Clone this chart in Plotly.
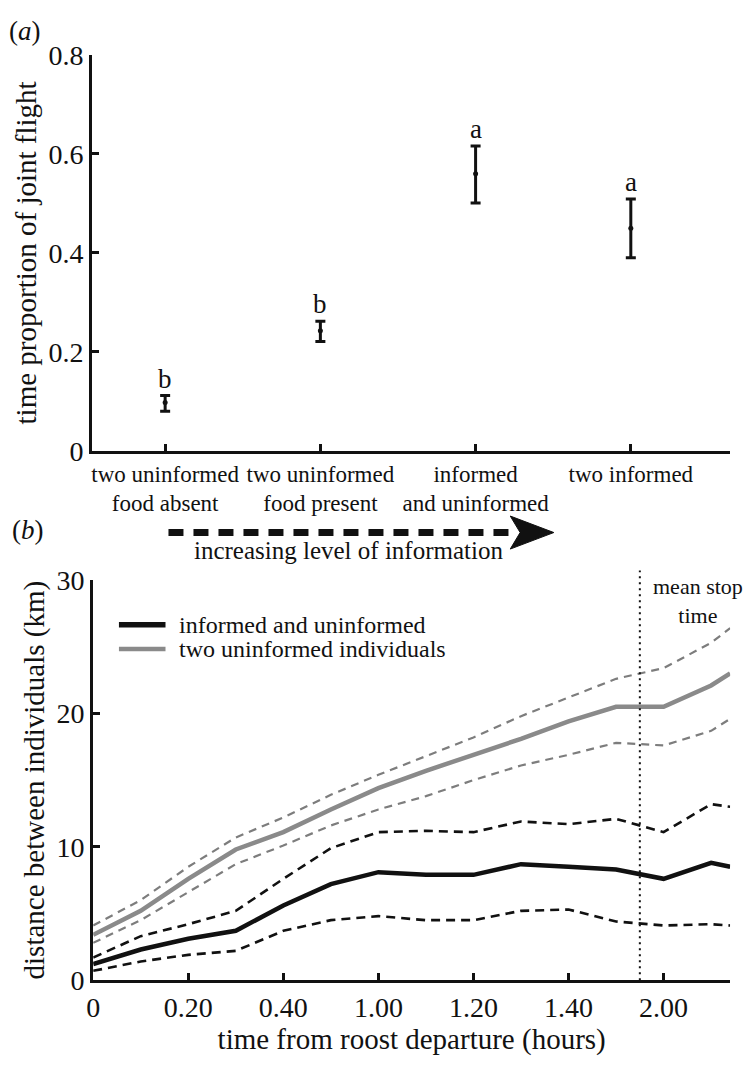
import plotly.graph_objects as go

W, H = 747, 1069
FONT = "Liberation Serif, Times New Roman, serif"

# ---------------- Panel (a) data ----------------
categories = ["two uninformed<br>food absent", "two uninformed<br>food present",
              "informed<br>and uninformed", "two informed"]
prop_mean = [0.098, 0.243, 0.560, 0.450]
prop_upper = [0.112, 0.262, 0.616, 0.509]
prop_lower = [0.080, 0.221, 0.501, 0.390]
sig_letters = ["b", "b", "a", "a"]
a_ytickvals = [0, 0.2, 0.4, 0.6, 0.8]
a_yticktext = ["0", "0.2", "0.4", "0.6", "0.8"]

# ---------------- Panel (b) data ----------------
time_min = [0, 10, 20, 30, 40, 50, 60, 70, 80, 90, 100, 110, 120, 130, 134]
inf_mean = [1.2, 2.3, 3.1, 3.7, 5.6, 7.2, 8.1, 7.9, 7.9, 8.7, 8.5, 8.3, 7.6, 8.8, 8.5]
inf_upper = [1.7, 3.3, 4.2, 5.2, 7.6, 9.9, 11.1, 11.2, 11.1, 11.9, 11.7, 12.1, 11.1, 13.2, 13.0]
inf_lower = [0.7, 1.4, 1.9, 2.2, 3.7, 4.5, 4.8, 4.5, 4.5, 5.2, 5.3, 4.4, 4.1, 4.2, 4.1]
unf_mean = [3.4, 5.2, 7.6, 9.8, 11.1, 12.8, 14.4, 15.7, 16.9, 18.1, 19.4, 20.5, 20.5, 22.1, 23.0]
unf_upper = [4.1, 6.0, 8.5, 10.7, 12.2, 13.9, 15.4, 16.8, 18.2, 19.8, 21.2, 22.6, 23.4, 25.3, 26.4]
unf_lower = [2.8, 4.5, 6.6, 8.7, 10.1, 11.6, 12.8, 13.8, 15.0, 16.1, 16.9, 17.8, 17.6, 18.7, 19.6]
b_xtickvals = [0, 20, 40, 60, 80, 100, 120]
b_xticktext = ["0", "0.20", "0.40", "1.00", "1.20", "1.40", "2.00"]
b_ytickvals = [0, 10, 20, 30]
mean_stop_time = 115
legend_names = ["informed and uninformed", "two uninformed individuals"]


def px(x):
    return x / W


def py(y):
    return 1 - y / H


BLACK = "#111111"
GREY = "#8a8a8a"
GREY_D = "#7d7d7d"

fig = go.Figure()

# Panel (a) error bars
fig.add_trace(go.Scatter(
    x=categories, y=prop_mean, mode="markers",
    marker=dict(color=BLACK, size=5),
    error_y=dict(type="data", symmetric=False,
                 array=[u - m for u, m in zip(prop_upper, prop_mean)],
                 arrayminus=[m - l for m, l in zip(prop_mean, prop_lower)],
                 color=BLACK, thickness=3, width=5),
    xaxis="x", yaxis="y", showlegend=False, cliponaxis=False))

for cat, up, let in zip(categories, prop_upper, sig_letters):
    fig.add_annotation(x=cat, y=up, xref="x", yref="y", text=let, showarrow=False,
                       yanchor="bottom", yshift=0,
                       font=dict(family=FONT, size=27, color=BLACK))

# Panel (b) lines
fig.add_trace(go.Scatter(x=time_min, y=unf_upper, mode="lines",
                         line=dict(color=GREY_D, width=2.2, dash="8px,6px"),
                         xaxis="x2", yaxis="y2", showlegend=False))
fig.add_trace(go.Scatter(x=time_min, y=unf_lower, mode="lines",
                         line=dict(color=GREY_D, width=2.2, dash="8px,6px"),
                         xaxis="x2", yaxis="y2", showlegend=False))
fig.add_trace(go.Scatter(x=time_min, y=unf_mean, mode="lines", name=legend_names[1],
                         line=dict(color=GREY, width=4.5),
                         xaxis="x2", yaxis="y2", showlegend=False))
fig.add_trace(go.Scatter(x=time_min, y=inf_upper, mode="lines",
                         line=dict(color=BLACK, width=2.6, dash="9px,6px"),
                         xaxis="x2", yaxis="y2", showlegend=False))
fig.add_trace(go.Scatter(x=time_min, y=inf_lower, mode="lines",
                         line=dict(color=BLACK, width=2.6, dash="9px,6px"),
                         xaxis="x2", yaxis="y2", showlegend=False))
fig.add_trace(go.Scatter(x=time_min, y=inf_mean, mode="lines", name=legend_names[0],
                         line=dict(color=BLACK, width=4.5),
                         xaxis="x2", yaxis="y2", showlegend=False))

axis_common = dict(showline=True, linecolor=BLACK, linewidth=3, ticks="inside",
                   ticklen=7, tickwidth=2.5, tickcolor=BLACK, showgrid=False,
                   zeroline=False, tickfont=dict(family=FONT, size=28, color=BLACK))

fig.update_layout(
    width=W, height=H,
    margin=dict(l=0, r=0, t=0, b=0),
    paper_bgcolor="white", plot_bgcolor="white",
    font=dict(family=FONT, color=BLACK),
    xaxis=dict(domain=[px(86), px(730)], anchor="y", type="category",
               categoryorder="array", categoryarray=categories,
               range=[-0.47, 3.64], tickangle=0,
               **{**axis_common, "tickfont": dict(family=FONT, size=23, color=BLACK)}),
    yaxis=dict(domain=[py(449), py(41)], anchor="x", range=[0, 0.8],
               tickvals=a_ytickvals, ticktext=a_yticktext,
               title=dict(text="time proportion of joint flight",
                          font=dict(family=FONT, size=29, color=BLACK), standoff=4),
               **axis_common),
    xaxis2=dict(domain=[px(87), px(730)], anchor="y2", range=[0, 134],
                tickvals=b_xtickvals, ticktext=b_xticktext,
                title=dict(text="time from roost departure (hours)",
                           font=dict(family=FONT, size=29, color=BLACK), standoff=6),
                **axis_common),
    yaxis2=dict(domain=[py(994), py(582)], anchor="x2", range=[0, 30],
                tickvals=b_ytickvals,
                title=dict(text="distance between individuals (km)",
                           font=dict(family=FONT, size=29, color=BLACK), standoff=4),
                **axis_common),
)

# Panel labels
fig.add_annotation(x=px(0), y=py(16), xref="paper", yref="paper", text="(<i>a</i>)",
                   showarrow=False, xanchor="left", yanchor="middle",
                   font=dict(family=FONT, size=27, color=BLACK))
fig.add_annotation(x=px(3), y=py(530), xref="paper", yref="paper", text="(<i>b</i>)",
                   showarrow=False, xanchor="left", yanchor="middle",
                   font=dict(family=FONT, size=27, color=BLACK))

# Dashed arrow: increasing level of information
fig.add_shape(type="line", xref="paper", yref="paper",
              x0=px(163), x1=px(512), y0=py(533), y1=py(533),
              line=dict(color=BLACK, width=7, dash="15px,10px"))
head = "M {:.5f} {:.5f} L {:.5f} {:.5f} L {:.5f} {:.5f} L {:.5f} {:.5f} Z".format(
    px(552), py(533), px(508), py(516), px(518), py(533), px(508), py(550))
fig.add_shape(type="path", xref="paper", yref="paper", path=head,
              fillcolor=BLACK, line=dict(color=BLACK, width=1))
fig.add_annotation(x=px(345), y=py(551), xref="paper", yref="paper",
                   text="increasing level of information", showarrow=False,
                   xanchor="center", yanchor="middle",
                   font=dict(family=FONT, size=25, color=BLACK))

# Mean stop time dotted line
fig.add_shape(type="line", xref="x2", yref="paper",
              x0=mean_stop_time, x1=mean_stop_time, y0=py(994), y1=py(572),
              line=dict(color=BLACK, width=2, dash="2px,4px"))
fig.add_annotation(x=px(698), y=py(603), xref="paper", yref="paper",
                   text="mean stop<br>time", showarrow=False,
                   xanchor="center", yanchor="middle", align="center",
                   font=dict(family=FONT, size=22, color=BLACK))

# Legend (drawn manually)
for i, (name, col) in enumerate(zip(legend_names, [BLACK, GREY])):
    yy = 628 + 25 * i
    fig.add_shape(type="line", xref="paper", yref="paper",
                  x0=px(113), x1=px(160), y0=py(yy), y1=py(yy),
                  line=dict(color=col, width=5.5 if i == 0 else 4.5))
    fig.add_annotation(x=px(172), y=py(yy), xref="paper", yref="paper",
                       text=name, showarrow=False, xanchor="left", yanchor="middle",
                       font=dict(family=FONT, size=24, color=BLACK))

fig.write_html("out.html", config={"displayModeBar": False},
               post_script="document.body.style.margin='0';document.body.style.overflow='hidden';")
